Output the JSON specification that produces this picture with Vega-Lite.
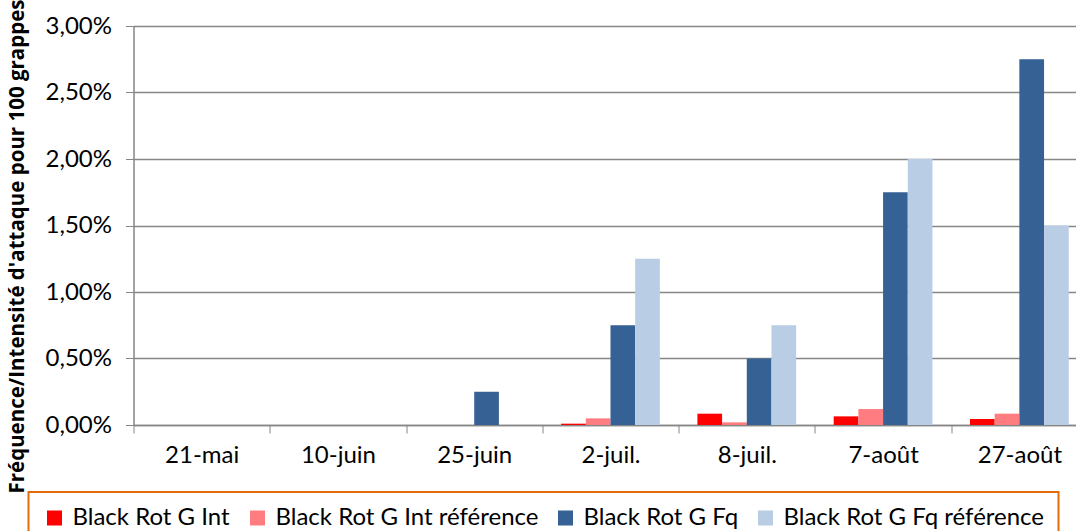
{
  "$schema": "https://vega.github.io/schema/vega-lite/v6.json",
  "autosize": {"type": "none"},
  "padding": {"left": 133.5, "top": 26, "right": 0, "bottom": 106},
  "width": 942.5,
  "height": 399,
  "background": "white",
  "config": {
    "locale": {"number": {"decimal": ",", "thousands": " ", "grouping": [3], "currency": ["", " €"]}},
    "view": {"stroke": null},
    "font": "Lato"
  },
  "data": {
    "values": [
      {"date": "21-mai", "series": "Black Rot G Int", "value": 0},
      {"date": "21-mai", "series": "Black Rot G Int référence", "value": 0},
      {"date": "21-mai", "series": "Black Rot G Fq", "value": 0},
      {"date": "21-mai", "series": "Black Rot G Fq référence", "value": 0},
      {"date": "10-juin", "series": "Black Rot G Int", "value": 0},
      {"date": "10-juin", "series": "Black Rot G Int référence", "value": 0},
      {"date": "10-juin", "series": "Black Rot G Fq", "value": 0},
      {"date": "10-juin", "series": "Black Rot G Fq référence", "value": 0},
      {"date": "25-juin", "series": "Black Rot G Int", "value": 0},
      {"date": "25-juin", "series": "Black Rot G Int référence", "value": 0},
      {"date": "25-juin", "series": "Black Rot G Fq", "value": 0.0025},
      {"date": "25-juin", "series": "Black Rot G Fq référence", "value": 0},
      {"date": "2-juil.", "series": "Black Rot G Int", "value": 0.0001},
      {"date": "2-juil.", "series": "Black Rot G Int référence", "value": 0.0005},
      {"date": "2-juil.", "series": "Black Rot G Fq", "value": 0.0075},
      {"date": "2-juil.", "series": "Black Rot G Fq référence", "value": 0.0125},
      {"date": "8-juil.", "series": "Black Rot G Int", "value": 0.00085},
      {"date": "8-juil.", "series": "Black Rot G Int référence", "value": 0.0002},
      {"date": "8-juil.", "series": "Black Rot G Fq", "value": 0.005},
      {"date": "8-juil.", "series": "Black Rot G Fq référence", "value": 0.0075},
      {"date": "7-août", "series": "Black Rot G Int", "value": 0.00065},
      {"date": "7-août", "series": "Black Rot G Int référence", "value": 0.0012},
      {"date": "7-août", "series": "Black Rot G Fq", "value": 0.0175},
      {"date": "7-août", "series": "Black Rot G Fq référence", "value": 0.02},
      {"date": "27-août", "series": "Black Rot G Int", "value": 0.00045},
      {"date": "27-août", "series": "Black Rot G Int référence", "value": 0.00085},
      {"date": "27-août", "series": "Black Rot G Fq", "value": 0.0275},
      {"date": "27-août", "series": "Black Rot G Fq référence", "value": 0.015}
    ]
  },
  "mark": {"type": "bar"},
  "encoding": {
    "x": {
      "field": "date",
      "type": "nominal",
      "sort": null,
      "scale": {"range": [0, 954], "paddingInner": 0, "paddingOuter": 0},
      "axis": {
        "title": null,
        "labelAngle": 0,
        "labelFontSize": 24,
        "labelColor": "black",
        "labelPadding": 10,
        "tickBand": "extent",
        "tickSize": 8,
        "tickColor": "#868686",
        "domainColor": "#868686",
        "domainWidth": 1.5
      }
    },
    "xOffset": {
      "field": "series",
      "type": "nominal",
      "sort": null,
      "scale": {"paddingInner": 0, "paddingOuter": 0.76}
    },
    "y": {
      "field": "value",
      "type": "quantitative",
      "scale": {"domain": [0, 0.03], "nice": false},
      "axis": {
        "title": "Fréquence/Intensité d'attaque pour 100 grappes",
        "titleFont": "Open Sans",
        "titleFontSize": 20.5,
        "titleFontWeight": "bold",
        "titleColor": "black",
        "titleAngle": -90,
        "titleAlign": "center",
        "titleBaseline": "middle",
        "titleX": -116,
        "titleY": 220,
        "titleLimit": 700,
        "values": [0, 0.005, 0.01, 0.015, 0.02, 0.025, 0.03],
        "format": ".2%",
        "labelFontSize": 24,
        "labelColor": "black",
        "labelPadding": 14,
        "tickSize": 8,
        "tickColor": "#868686",
        "domainColor": "#868686",
        "domainWidth": 1.5,
        "gridColor": "#868686",
        "gridWidth": 1.5
      }
    },
    "color": {
      "field": "series",
      "type": "nominal",
      "sort": null,
      "scale": {
        "range": ["#FF0000", "#FF7C80", "#356194", "#B9CDE5"]
      },
      "legend": {
        "title": null,
        "orient": "none",
        "direction": "horizontal",
        "legendX": -105,
        "legendY": 466,
        "symbolType": "square",
        "symbolSize": 225,
        "symbolStrokeWidth": 0,
        "symbolOpacity": 1,
        "labelFontSize": 24,
        "labelLimit": 500,
        "labelColor": "black",
        "labelOffset": 6,
        "columnPadding": 15,
        "padding": 14,
        "strokeColor": "#E46C0A",
        "fillColor": "white",
        "encode": {"legend": {"update": {"strokeWidth": {"value": 2}}}}
      }
    }
  }
}
